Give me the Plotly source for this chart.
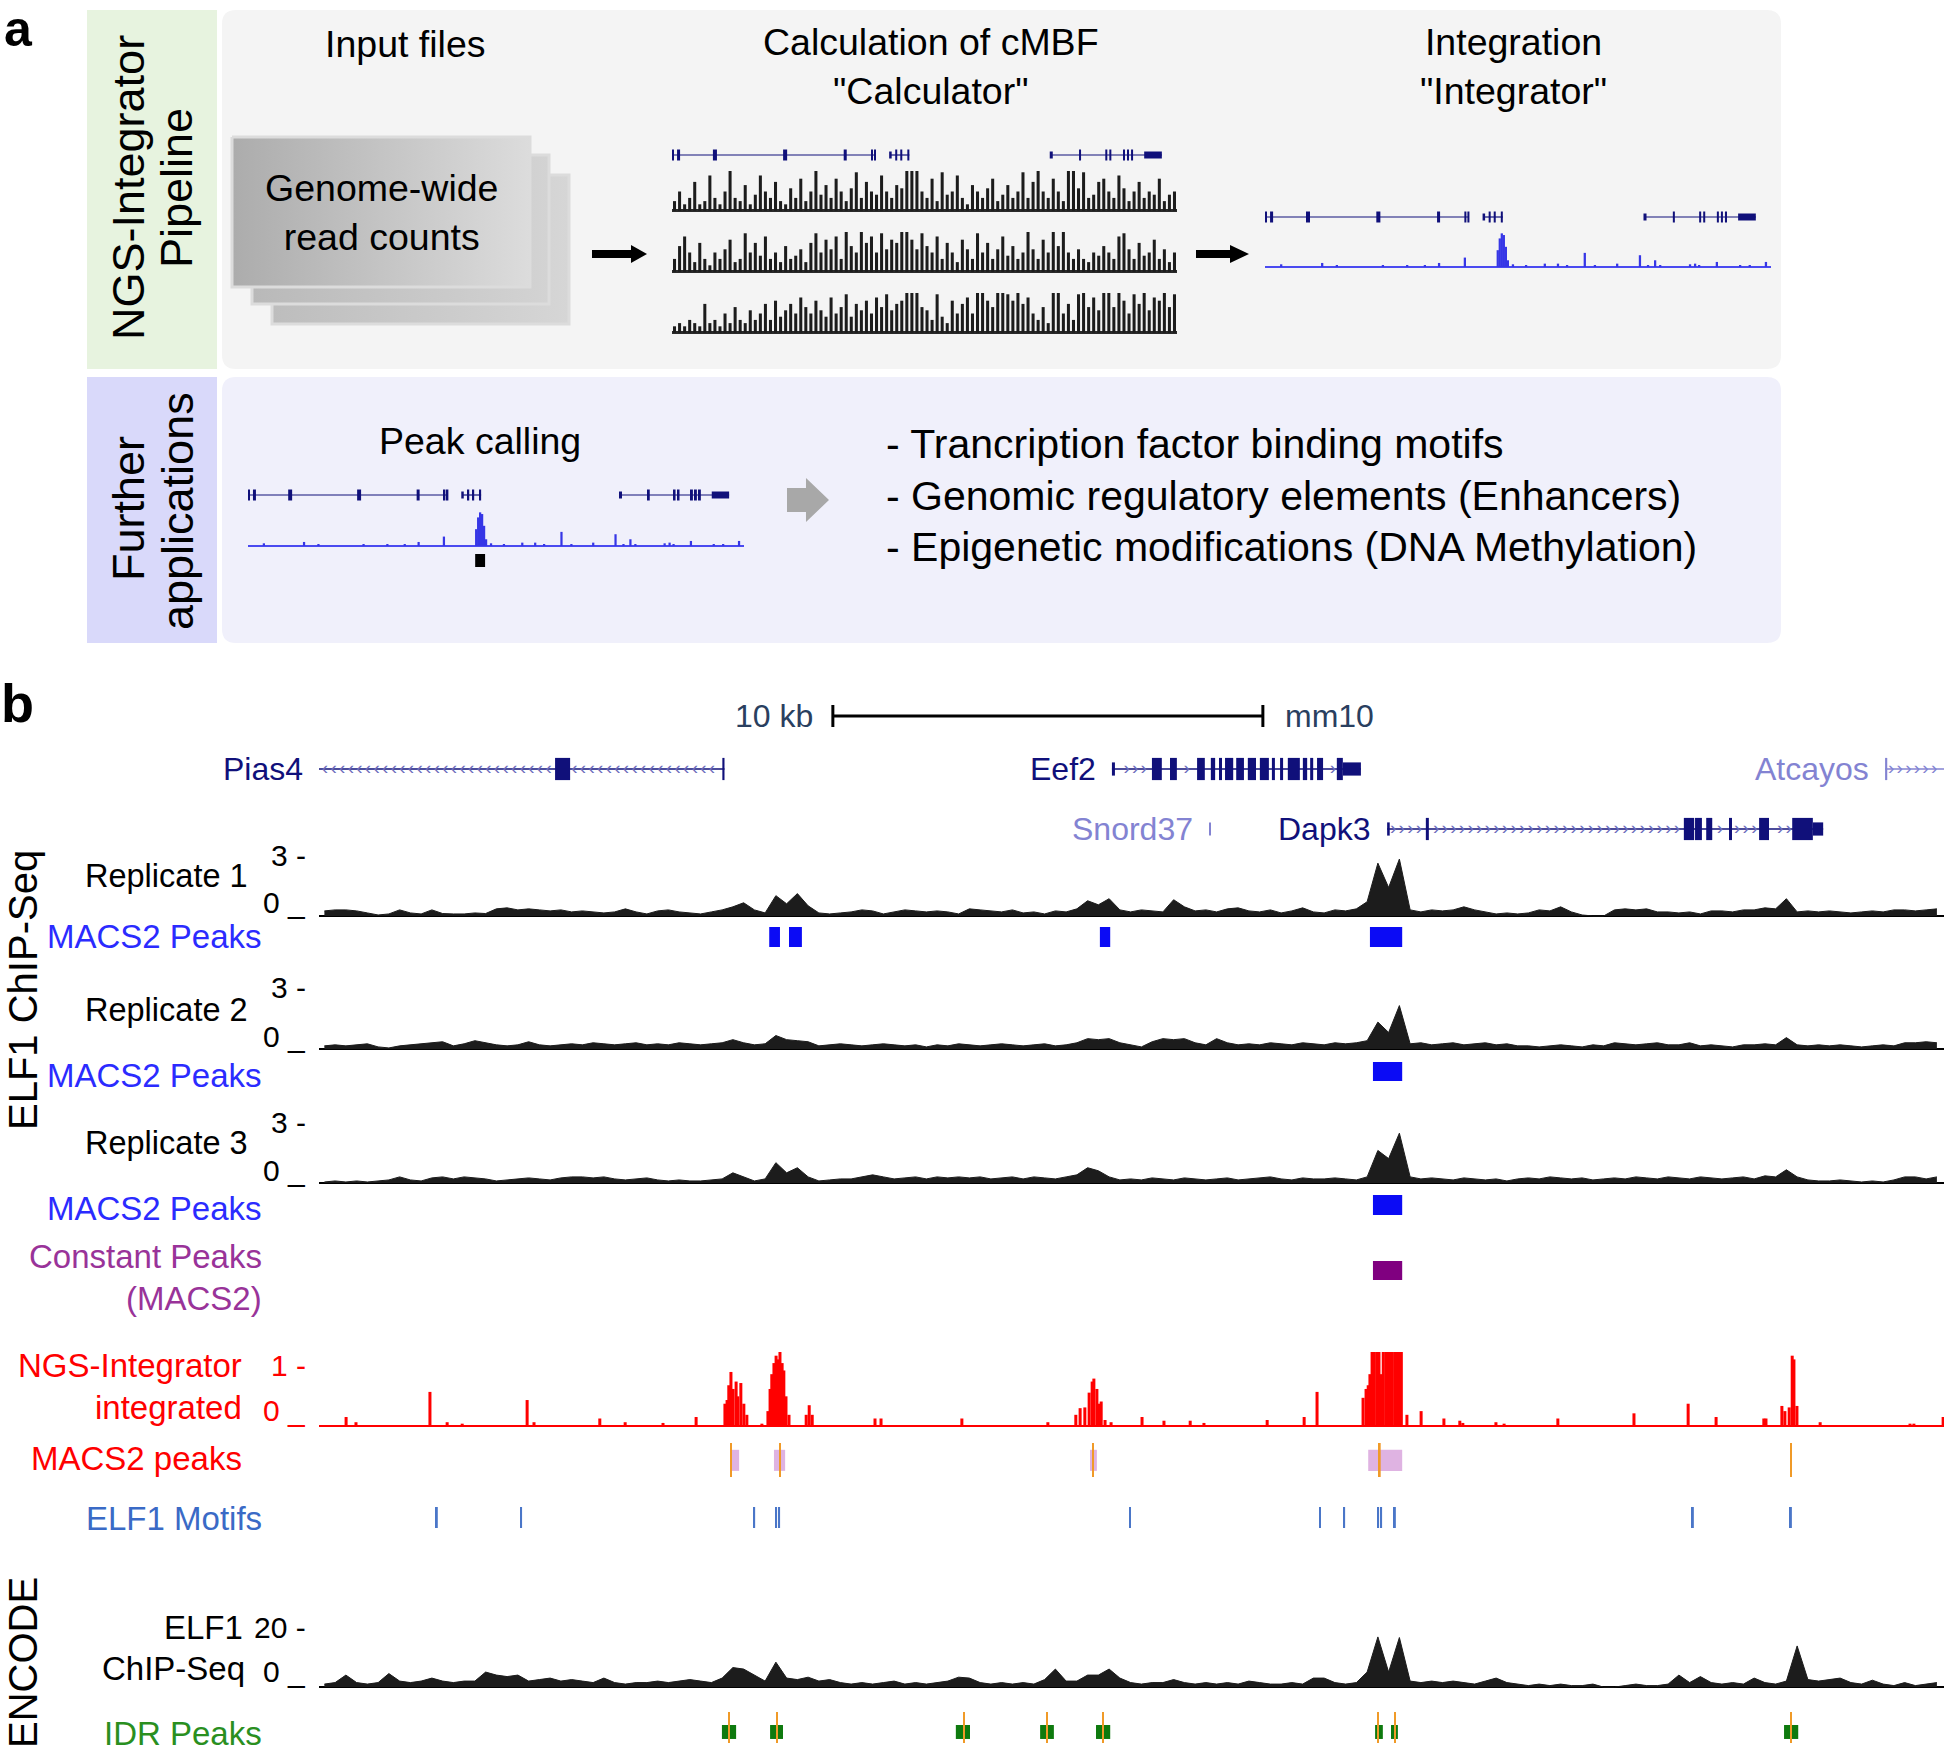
import numpy as np
import plotly.graph_objects as go

W, H = 1946, 1751
FONT = "Liberation Sans, Arial, Helvetica, sans-serif"

# ======================= DATA : panel b (genomic coordinates in kb) =======================
REGION_KB = 37.79
BIN_KB = 0.25

rep1_signal = [
    .25, .3, .3, .25, .15, .05, .1, .3, .15, .1,
    .3, .12, .1, .1, .15, .12, .35, .4, .3, .35,
    .3, .25, .3, .2, .25, .2, .15, .2, .35, .2,
    .1, .25, .3, .2, .15, .1, .2, .3, .45, .65,
    .3, .15, 1.0, .6, 1.1, .5, .15, .1, .15, .2,
    .3, .25, .1, .2, .3, .25, .2, .25, .2, .1,
    .35, .3, .25, .2, .3, .15, .2, .1, .25, .2,
    .35, .75, .55, .85, .3, .2, .3, .25, .2, .8,
    .45, .25, .3, .2, .35, .4, .25, .2, .3, .15,
    .25, .4, .2, .15, .3, .25, .35, .7, 2.6, 1.4,
    2.8, .3, .2, .3, .25, .3, .45, .3, .2, .1,
    .15, .1, .15, .3, .25, .45, .2, .05, 0, 0,
    .3, .35, .3, .35, .2, .2, .15, .2, .1, .25,
    .25, .2, .3, .3, .4, .35, .85, .2, .25, .2,
    .25, .2, .15, .2, .25, .2, .3, .3, .25, .3, .35]

rep2_signal = [
    .15, .2, .15, .2, .25, .1, .05, .15, .2, .25,
    .3, .35, .15, .25, .4, .3, .2, .15, .2, .35,
    .2, .15, .2, .25, .2, .3, .25, .2, .25, .3,
    .2, .25, .2, .3, .25, .2, .25, .3, .45, .3,
    .2, .25, .65, .45, .4, .35, .15, .2, .25, .2,
    .15, .2, .25, .2, .15, .2, .1, .2, .15, .25,
    .2, .15, .2, .25, .2, .15, .2, .25, .15, .2,
    .3, .5, .45, .5, .3, .2, .1, .35, .5, .45,
    .5, .3, .2, .5, .3, .2, .25, .2, .3, .25,
    .2, .3, .25, .2, .3, .25, .3, .4, 1.3, .8,
    2.1, .25, .3, .2, .25, .3, .2, .25, .3, .2,
    .25, .15, .15, .1, .15, .2, .15, .1, .2, .15,
    .3, .25, .2, .25, .3, .2, .2, .3, .15, .2,
    .15, .1, .2, .2, .25, .2, .55, .2, .15, .2,
    .15, .2, .15, .1, .15, .2, .15, .3, .3, .35, .3]

rep3_signal = [
    .05, .1, .05, .1, .05, .1, .15, .3, .15, .1,
    .25, .3, .2, .3, .25, .2, .1, .15, .2, .25,
    .2, .15, .25, .3, .3, .25, .3, .2, .15, .2,
    .25, .15, .1, .15, .1, .1, .15, .2, .5, .3,
    .1, .2, 1.0, .5, .75, .3, .1, .15, .2, .2,
    .3, .4, .3, .2, .25, .3, .2, .3, .25, .3,
    .25, .3, .2, .25, .3, .2, .3, .25, .2, .3,
    .4, .75, .6, .3, .15, .2, .15, .25, .2, .15,
    .25, .2, .15, .2, .25, .15, .2, .25, .3, .2,
    .15, .25, .2, .2, .25, .2, .15, .3, 1.6, 1.2,
    2.45, .3, .2, .25, .2, .15, .25, .2, .15, .2,
    .1, .2, .25, .2, .3, .25, .2, .25, .15, .2,
    .25, .2, .3, .25, .2, .3, .25, .2, .3, .25,
    .2, .25, .3, .2, .35, .3, .65, .3, .15, .1,
    .1, .15, .1, .05, .1, .05, .15, .3, .3, .2, .3]

encode_signal = [
    1, 1.5, 4, 1.5, 1, 1.5, 4.5, 2, 1.5, 2,
    3, 2, 1.5, 2, 2, 5, 4, 3.5, 4, 2,
    2.5, 3, 2, 2.5, 2, 1.5, 3, 1.5, 1, 1.5,
    1.5, 2, 1.5, 2, 2.5, 2, 1.5, 3, 6.5, 6,
    4, 2, 8.3, 3, 2.5, 3.3, 2, 2.5, 1.5, 1,
    1.5, 1, 1.5, 2, 1, 1.5, 1, 1.5, 2, 3.3,
    3, 1.5, 1, 1.5, 1, 1.5, 1, 2.5, 6, 2,
    2, 4, 4, 6, 3, 1.5, 1, 1.5, 1.5, 2.5,
    1.5, 1, 1.5, 1, 1.5, 1, 2, 1.5, 1, 1,
    1.5, 1, 3, 3, 1.5, 1, 1.5, 5, 16.7, 5,
    16.5, 2, 1.5, 2, 1.5, 2, 1.5, 1, 2, 3,
    1.5, 1, .5, 1, .5, 1, .5, .5, 1, 0,
    0, .5, 1, .5, .5, 1, 4, 1.5, 3.5, 1.5,
    1, 1.5, 1, 3, 1.5, 1, 2, 13.7, 2.5, 2,
    2.5, 3, 1.5, 1, 2.3, 1, .5, 1.5, .5, 1, 1.5]

ngs_pos = [0.63, 0.86, 2.58, 2.98, 3.33, 4.84, 5.00, 6.53, 7.12, 8.00, 8.77,
           9.44, 9.49, 9.53, 9.58, 9.63, 9.70, 9.74, 9.81, 9.88, 9.95,
           10.30, 10.44, 10.49, 10.53, 10.58, 10.63, 10.67, 10.72, 10.77, 10.81, 10.86, 10.93,
           11.33, 11.40, 11.47, 12.93, 13.07, 14.95, 16.95,
           17.60, 17.70, 17.81, 17.91, 17.98, 18.02, 18.09, 18.14, 18.19, 18.28, 18.42,
           19.14, 19.65, 20.26, 20.58, 22.05, 22.91, 23.21,
           24.28, 24.35, 24.40, 24.44, 24.49, 24.54, 24.60, 24.65, 24.70, 24.75, 24.81,
           24.86, 24.91, 24.96, 25.02, 25.07, 25.12, 25.17,
           25.30, 25.63, 26.16, 26.53, 26.60, 27.37, 27.56, 28.81, 30.58, 31.84, 32.49, 33.60, 33.65,
           34.02, 34.09, 34.19, 34.26, 34.30, 34.37, 34.91, 37.00, 37.09, 37.77]
ngs_val = [0.12, 0.05, 0.46, 0.05, 0.03, 0.35, 0.05, 0.10, 0.05, 0.04, 0.12,
           0.30, 0.35, 0.55, 0.73, 0.50, 0.60, 0.40, 0.58, 0.30, 0.15,
           0.03, 0.20, 0.50, 0.70, 0.85, 0.95, 0.90, 1.00, 0.85, 0.75, 0.40, 0.15,
           0.15, 0.28, 0.15, 0.10, 0.10, 0.10, 0.05,
           0.15, 0.24, 0.25, 0.45, 0.60, 0.64, 0.50, 0.30, 0.33, 0.08, 0.05,
           0.12, 0.07, 0.07, 0.04, 0.08, 0.12, 0.46,
           0.38, 0.50, 0.55, 0.70, 1.30, 1.30, 1.30, 1.30, 0.70, 1.30, 1.30,
           1.30, 1.30, 1.30, 1.30, 1.30, 1.30, 1.30,
           0.15, 0.20, 0.10, 0.07, 0.04, 0.05, 0.03, 0.10, 0.17, 0.30, 0.12, 0.10, 0.10,
           0.27, 0.20, 0.25, 0.95, 0.90, 0.27, 0.05, 0.03, 0.03, 0.12]

rep1_peak_start = [10.47, 10.93, 18.16, 24.44]
rep1_peak_end = [10.72, 11.23, 18.40, 25.19]
rep2_peak_start = [24.51]
rep2_peak_end = [25.19]
rep3_peak_start = [24.51]
rep3_peak_end = [25.19]
const_peak_start = [24.51]
const_peak_end = [25.19]
ngs_peak_start = [9.58, 10.58, 17.93, 24.40]
ngs_peak_end = [9.77, 10.84, 18.09, 25.19]
ngs_summits = [9.58, 10.72, 18.00, 24.67, 34.23]
motif_pos = [2.74, 4.70, 10.12, 10.63, 10.70, 18.86, 23.28, 23.84, 24.63, 24.70, 25.02, 31.95, 34.23]
idr_start = [9.37, 10.49, 14.81, 16.77, 18.07, 24.56, 24.93, 34.07]
idr_end = [9.70, 10.79, 15.14, 17.09, 18.40, 24.74, 25.09, 34.40]
idr_summits = [9.53, 10.65, 15.00, 16.93, 18.23, 24.63, 25.02, 34.23]

SCALE_START_KB = 11.95
SCALE_KB = 10

gene_names = ["Pias4", "Eef2", "Atcayos", "Snord37", "Dapk3"]
gene_rows = [1, 1, 1, 2, 2]
gene_strand = ["-", "+", "+", "+", "+"]
gene_start = [0.0, 18.44, 36.42, 20.70, 24.84]
gene_end = [9.43, 24.23, 38.60, 20.74, 34.98]
gene_dark = [True, True, False, False, True]
gene_exons = {
    "Pias4": [(5.49, 5.84, "cds"), (9.38, 9.43, "cds")],
    "Eef2": [(18.44, 18.51, "utr"), (19.37, 19.60, "cds"), (19.79, 19.95, "cds"), (20.42, 20.60, "cds"),
             (20.74, 20.84, "cds"), (20.93, 21.00, "cds"), (21.07, 21.26, "cds"), (21.33, 21.51, "cds"),
             (21.60, 21.79, "cds"), (21.88, 22.09, "cds"), (22.16, 22.23, "cds"), (22.35, 22.42, "cds"),
             (22.53, 22.81, "cds"), (22.88, 22.98, "cds"), (23.05, 23.12, "cds"), (23.21, 23.35, "cds"),
             (23.67, 23.81, "cds"), (23.81, 24.23, "utr")],
    "Atcayos": [(36.42, 36.47, "cds")],
    "Snord37": [(20.70, 20.74, "utr")],
    "Dapk3": [(24.84, 24.90, "utr"), (25.74, 25.81, "cds"), (31.74, 31.98, "cds"), (32.00, 32.16, "cds"),
              (32.26, 32.40, "cds"), (32.79, 32.86, "cds"), (33.49, 33.72, "cds"), (34.26, 34.74, "cds"),
              (34.74, 34.98, "utr")],
}

# ======================= DATA : panel a mini tracks (relative units 0-100) =======================
mini_gene_segments = [(0.0, 40.3), (43.2, 47.0), (74.9, 97.0)]
mini_exon_start = [0.0, 1.0, 8.1, 22.0, 34.0, 39.4, 40.0, 43.0, 44.2, 45.2, 46.6,
                   74.8, 80.6, 85.8, 86.6, 89.3, 90.1, 90.9, 93.5]
mini_exon_end = [0.4, 1.6, 8.9, 22.8, 34.6, 39.8, 40.4, 43.5, 44.6, 45.6, 47.0,
                 75.4, 81.0, 86.2, 87.0, 89.7, 90.5, 91.3, 97.0]
mini_exon_kind = ["cds"] * 7 + ["utr", "cds", "cds", "cds", "utr", "cds", "cds", "cds", "cds", "cds", "cds", "utr"]

calc_track1 = [.15, .3, .1, .2, .45, .1, .15, .55, .2, .1, .3, .75, .2, .15, .4, .1, .25, .55, .3, .2,
               .45, .15, .1, .35, .2, .5, .15, .3, .65, .25, .4, .2, .5, .3, .15, .35, .6, .2, .45, .3,
               .25, .55, .3, .2, .4, .35, .85, .85, .8, .3, .2, .5, .15, .6, .25, .3, .55, .2, .1, .4,
               .3, .2, .35, .5, .15, .25, .4, .2, .3, .6, .2, .45, .8, .3, .2, .5, .3, .15, .75, .7,
               .35, .6, .2, .25, .45, .5, .3, .2, .55, .35, .15, .3, .45, .2, .3, .25, .5, .15, .25, .3]
calc_track2 = [.2, .4, .55, .3, .15, .45, .2, .1, .3, .2, .35, .5, .15, .2, .6, .3, .45, .25, .55, .2,
               .3, .15, .4, .2, .25, .35, .15, .45, .6, .3, .5, .35, .55, .2, .65, .4, .3, .7, .45, .55,
               .3, .6, .35, .5, .45, .7, .85, .5, .35, .6, .4, .3, .55, .2, .45, .3, .15, .5, .35, .2,
               .6, .3, .45, .2, .35, .55, .25, .4, .2, .3, .7, .35, .2, .5, .3, .65, .4, .75, .3, .2,
               .35, .2, .15, .3, .25, .4, .3, .2, .55, .6, .35, .2, .45, .25, .3, .5, .2, .35, .15, .3]
calc_track3 = [.1, .15, .1, .2, .15, .1, .45, .15, .2, .1, .3, .15, .4, .2, .15, .35, .2, .3, .45, .2,
               .5, .25, .35, .45, .3, .55, .4, .3, .5, .35, .25, .55, .3, .4, .6, .25, .45, .35, .5, .3,
               .55, .4, .6, .35, .45, .5, .9, .9, .85, .4, .35, .2, .6, .25, .15, .5, .3, .45, .55, .3,
               .65, .7, .5, .4, .65, .75, .6, .5, .7, .45, .55, .3, .2, .4, .15, .75, .8, .3, .45, .2,
               .6, .75, .4, .55, .35, .8, .65, .4, .75, .5, .3, .6, .45, .7, .35, .55, .5, .65, .4, .6]

integ_pos = [3.2, 11.3, 14.2, 23.3, 28.1, 31.6, 34.4, 39.5, 46.0, 46.4, 46.8, 47.2, 47.6, 48.0, 49.0,
             51.6, 55.3, 57.9, 59.7, 63.2, 65.2, 69.6, 74.1, 75.7, 77.1, 78.1, 84.0, 85.0, 85.8, 89.3,
             93.9, 95.8, 99.0]
integ_val = [0.08, 0.12, 0.05, 0.04, 0.04, 0.05, 0.12, 0.28, 0.5, 0.85, 1.0, 0.95, 0.6, 0.2, 0.08,
             0.04, 0.1, 0.1, 0.05, 0.42, 0.04, 0.1, 0.35, 0.06, 0.2, 0.05, 0.08, 0.1, 0.05, 0.15,
             0.04, 0.05, 0.15]
called_peak_start = [45.8]
called_peak_end = [47.8]

bullet_items = ["- Trancription factor binding motifs",
                "- Genomic regulatory elements (Enhancers)",
                "- Epigenetic modifications (DNA Methylation)"]

# ======================= helpers =======================
def X(px):
    return px / W


def Y(py):
    return 1 - py / H


def dom(top, bottom):
    return [Y(bottom), Y(top)]


GENE_DARK = "#10107a"
GENE_LIGHT = "#8383d2"
CHEV_DARK = "#6c6cbc"
BLACK_SIG = "#1c1c1c"

traces = []
axes = {}
annotations = []
shapes = []


def yname(n):
    return "y" if n == 1 else f"y{n}"


def add_yaxis(n, top, bottom, rng, anchor="x", zeroline=None):
    d = dict(domain=dom(top, bottom), range=rng, anchor=anchor, fixedrange=True, showgrid=False,
             showticklabels=False, ticks="", showline=False, zeroline=False)
    if zeroline:
        d.update(zeroline=True, zerolinecolor=zeroline[0], zerolinewidth=zeroline[1])
    axes["yaxis" if n == 1 else f"yaxis{n}"] = d


def add_xaxis(n, left, right, rng, anchor):
    axes["xaxis" if n == 1 else f"xaxis{n}"] = dict(domain=[X(left), X(right)], range=rng, anchor=anchor,
                                                     visible=False, fixedrange=True, showgrid=False,
                                                     zeroline=False)


def interval_bars(starts, ends, xa, yn, color, base=0.0, height=1.0):
    s = np.asarray(starts, float)
    e = np.asarray(ends, float)
    traces.append(go.Bar(x=(s + e) / 2, y=[height] * len(s), base=[base] * len(s), width=e - s,
                         marker=dict(color=color, line=dict(width=0)), xaxis=xa, yaxis=yname(yn),
                         hoverinfo="skip"))


def ticks_bars(pos, xa, yn, color, width):
    traces.append(go.Bar(x=pos, y=[1.0] * len(pos), base=[0.0] * len(pos), width=[width] * len(pos),
                         marker=dict(color=color, line=dict(width=0)), xaxis=xa, yaxis=yname(yn),
                         hoverinfo="skip"))


def signal_fill(values, yn, color):
    x = (np.arange(len(values)) + 0.5) * BIN_KB
    traces.append(go.Scatter(x=x, y=values, mode="lines", fill="tozeroy", fillcolor=color,
                             line=dict(color=color, width=1), xaxis="x", yaxis=yname(yn),
                             hoverinfo="skip"))


def ann(text, x, y, size, color="black", xanchor="center", angle=0):
    annotations.append(dict(text=text, x=X(x), y=Y(y), xref="paper", yref="paper", xanchor=xanchor,
                            yanchor="middle", showarrow=False, textangle=angle,
                            font=dict(family=FONT, size=size, color=color)))


def poly_path(pts):
    return "M " + " L ".join(f"{X(a):.5f},{Y(b):.5f}" for a, b in pts) + " Z"


def rrect_path(x0, y0, x1, y1, r):
    def p(a, b):
        return f"{X(a):.5f},{Y(b):.5f}"
    return (f"M {p(x0 + r, y0)} L {p(x1 - r, y0)} Q {p(x1, y0)} {p(x1, y0 + r)} "
            f"L {p(x1, y1 - r)} Q {p(x1, y1)} {p(x1 - r, y1)} L {p(x0 + r, y1)} "
            f"Q {p(x0, y1)} {p(x0, y1 - r)} L {p(x0, y0 + r)} Q {p(x0, y0)} {p(x0 + r, y0)} Z")


# ======================= panel a : backgrounds =======================
shapes.append(dict(type="rect", xref="paper", yref="paper", x0=X(87), x1=X(217), y0=Y(369), y1=Y(10),
                   fillcolor="#e7f3df", line=dict(width=0), layer="below"))
shapes.append(dict(type="path", xref="paper", yref="paper", path=rrect_path(222, 10, 1781, 369, 14),
                   fillcolor="#f4f4f4", line=dict(width=0), layer="below"))
shapes.append(dict(type="rect", xref="paper", yref="paper", x0=X(87), x1=X(217), y0=Y(643), y1=Y(377),
                   fillcolor="#d9d9fa", line=dict(width=0), layer="below"))
shapes.append(dict(type="path", xref="paper", yref="paper", path=rrect_path(222, 377, 1781, 643, 14),
                   fillcolor="#f0f0fb", line=dict(width=0), layer="below"))

# stacked "files" boxes (gradient) on a full-page overlay axis
add_xaxis(5, 0, W, [0, W], "y23")
axes["yaxis23"] = dict(domain=[0, 1], range=[H, 0], anchor="x5", visible=False, fixedrange=True)
for (x0, y0, x1, y1), (c0, c1) in zip([(272, 175, 569, 324), (252, 155, 549, 304), (232, 137, 530, 287)],
                                      [("#bdbdbd", "#d6d6d6"), ("#b9b9b9", "#d3d3d3"), ("#acacac", "#dcdcdc")]):
    traces.append(go.Scatter(x=[x0, x1, x1, x0, x0], y=[y0, y0, y1, y1, y0], mode="lines", fill="toself",
                             fillgradient=dict(type="horizontal", colorscale=[[0, c0], [1, c1]]),
                             line=dict(color="#dcdcdc", width=3), xaxis="x5", yaxis="y23",
                             hoverinfo="skip"))

# arrows
for x0, xh, xt in [(592, 631, 647), (1196, 1230, 1249)]:
    shapes.append(dict(type="path", xref="paper", yref="paper", fillcolor="black", line=dict(width=0),
                       path=poly_path([(x0, 250), (xh, 250), (xh, 245), (xt, 254), (xh, 263), (xh, 258),
                                       (x0, 258)])))
shapes.append(dict(type="path", xref="paper", yref="paper", fillcolor="#a8a8a8", line=dict(width=0),
                   path=poly_path([(787, 488), (806, 488), (806, 478), (829, 500), (806, 522), (806, 512),
                                   (787, 512)])))

# ======================= panel a : mini tracks =======================
def mini_gene(xa, yn):
    xs, ys = [], []
    for s, e in mini_gene_segments:
        xs += [s, e, None]
        ys += [0, 0, None]
    traces.append(go.Scatter(x=xs, y=ys, mode="lines", line=dict(color=GENE_DARK, width=1.2), xaxis=xa,
                             yaxis=yname(yn), hoverinfo="skip"))
    s = np.asarray(mini_exon_start)
    e = np.asarray(mini_exon_end)
    h = np.array([1.1 if k == "cds" else 0.7 for k in mini_exon_kind])
    traces.append(go.Bar(x=(s + e) / 2, y=h, base=-h / 2, width=e - s,
                         marker=dict(color=GENE_DARK, line=dict(width=0)), xaxis=xa, yaxis=yname(yn),
                         hoverinfo="skip"))


# calculator
add_xaxis(2, 672, 1177, [0, 100], "y14")
add_yaxis(14, 145, 165, [-1, 1], anchor="x2")
mini_gene("x2", 14)
for yn, (top, bot), vals in zip([15, 16, 17], [(171, 212), (232, 273), (293, 334)],
                                [calc_track1, calc_track2, calc_track3]):
    add_yaxis(yn, top, bot, [-0.02, 0.62], anchor="x2", zeroline=("#2a2a2a", 2.5))
    n = len(vals)
    traces.append(go.Bar(x=(np.arange(n) + 0.5) * 100 / n, y=vals, width=0.6 * 100 / n,
                         marker=dict(color=BLACK_SIG, line=dict(width=0)), xaxis="x2", yaxis=yname(yn),
                         hoverinfo="skip"))

# integrator
add_xaxis(3, 1265, 1771, [0, 100], "y18")
add_yaxis(18, 207, 227, [-1, 1], anchor="x3")
mini_gene("x3", 18)
add_yaxis(19, 230, 268, [-0.03, 1.1], anchor="x3", zeroline=("#4a4af0", 1.5))
traces.append(go.Bar(x=integ_pos, y=integ_val, width=0.45, marker=dict(color="#3636e6", line=dict(width=0)),
                     xaxis="x3", yaxis="y19", hoverinfo="skip"))

# peak calling
add_xaxis(4, 248, 744, [0, 100], "y20")
add_yaxis(20, 485, 505, [-1, 1], anchor="x4")
mini_gene("x4", 20)
add_yaxis(21, 509, 547, [-0.03, 1.1], anchor="x4", zeroline=("#4a4af0", 1.5))
traces.append(go.Bar(x=integ_pos, y=integ_val, width=0.45, marker=dict(color="#3636e6", line=dict(width=0)),
                     xaxis="x4", yaxis="y21", hoverinfo="skip"))
add_yaxis(22, 554, 567, [0, 1], anchor="x4")
interval_bars(called_peak_start, called_peak_end, "x4", 22, "black")

# panel a text
ann("<b>a</b>", 18, 29, 50)
ann("NGS-Integrator", 129, 188, 45, angle=-90)
ann("Pipeline", 177, 188, 45, angle=-90)
ann("Further", 128, 509, 45, angle=-90)
ann("applications", 177, 511, 45, angle=-90)
ann("Input files", 405, 44, 37.5)
ann("Calculation of cMBF<br>\"Calculator\"", 931, 67, 37.5)
ann("Integration<br>\"Integrator\"", 1513, 67, 37.5)
ann("Genome-wide<br>read counts", 381, 213, 37.5)
ann("Peak calling", 480, 441, 37.5)
for txt, yy in zip(bullet_items, [444, 496, 547]):
    ann(txt, 884, yy, 41, xanchor="left")

# ======================= panel b =======================
add_xaxis(1, 319, 1944, [0, REGION_KB], "y")
add_yaxis(1, 739, 859, [2.5, 0.5], anchor="x")

# genes
for name, row, strand, s, e, dark in zip(gene_names, gene_rows, gene_strand, gene_start, gene_end, gene_dark):
    col = GENE_DARK if dark else GENE_LIGHT
    chev = CHEV_DARK if dark else GENE_LIGHT
    traces.append(go.Scatter(x=[s, e], y=[row, row], mode="lines", line=dict(color=col, width=1.6),
                             xaxis="x", yaxis="y", hoverinfo="skip"))
    ex = gene_exons[name]
    es = np.array([a for a, b, k in ex])
    ee = np.array([b for a, b, k in ex])
    hh = np.array([0.37 if k == "cds" else 0.22 for a, b, k in ex])
    traces.append(go.Bar(x=(es + ee) / 2, y=hh, base=row - hh / 2, width=ee - es,
                         marker=dict(color=col, line=dict(width=0)), xaxis="x", yaxis="y", hoverinfo="skip"))
    if e - s > 0.5:
        cp = np.arange(s + 0.14, min(e, REGION_KB) - 0.12, 0.2)
        keep = [p for p in cp if not any(a - 0.07 <= p <= b + 0.07 for a, b, k in ex)]
        traces.append(go.Scatter(x=keep, y=[row] * len(keep), mode="text",
                                 text=["›" if strand == "+" else "‹"] * len(keep),
                                 textfont=dict(family=FONT, size=19, color=chev), textposition="middle center",
                                 xaxis="x", yaxis="y", hoverinfo="skip"))
    annotations.append(dict(text=name, x=max(s, 0), y=row, xref="x", yref="y", xanchor="right",
                            yanchor="middle", xshift=-14, showarrow=False,
                            font=dict(family=FONT, size=32, color=col)))

# scale bar
sb0, sb1 = SCALE_START_KB, SCALE_START_KB + SCALE_KB
shapes.append(dict(type="line", xref="x", yref="paper", x0=sb0, x1=sb1, y0=Y(716), y1=Y(716),
                   line=dict(color="black", width=3)))
for xx in (sb0, sb1):
    shapes.append(dict(type="line", xref="x", yref="paper", x0=xx, x1=xx, y0=Y(705), y1=Y(727),
                       line=dict(color="black", width=3)))
annotations.append(dict(text=f"{SCALE_KB} kb", x=sb0, y=Y(716), xref="x", yref="paper", xanchor="right",
                        yanchor="middle", xshift=-18, showarrow=False, font=dict(family=FONT, size=32)))
annotations.append(dict(text="mm10", x=sb1, y=Y(716), xref="x", yref="paper", xanchor="left",
                        yanchor="middle", xshift=20, showarrow=False, font=dict(family=FONT, size=32)))

# replicate tracks
BLUE = "#0b0bf5"
rep_cfg = [(2, 3, rep1_signal, rep1_peak_start, rep1_peak_end, (855, 917), (927, 947), "Replicate 1", 876, 937),
           (4, 5, rep2_signal, rep2_peak_start, rep2_peak_end, (987, 1050), (1062, 1081), "Replicate 2", 1010, 1075),
           (6, 7, rep3_signal, rep3_peak_start, rep3_peak_end, (1122, 1184), (1195, 1215), "Replicate 3", 1143, 1208)]
for ysig, ypk, vals, ps, pe, (t, b), (pt, pb), lab, ly, py in rep_cfg:
    add_yaxis(ysig, t, b, [-0.05, 3.0], zeroline=("black", 1.5))
    signal_fill(vals, ysig, BLACK_SIG)
    add_yaxis(ypk, pt, pb, [0, 1])
    interval_bars(ps, pe, "x", ypk, BLUE)
    ann(lab, 250, ly, 32.5, xanchor="right")
    ann("3 -", 308, t, 30, xanchor="right")
    ann("0 _", 308, b - 14, 30, xanchor="right")
    ann("MACS2 Peaks", 264, py, 33, color="#2b2bff", xanchor="right")

# constant peaks
add_yaxis(8, 1261, 1280, [0, 1])
interval_bars(const_peak_start, const_peak_end, "x", 8, "#800080")
ann("Constant Peaks", 264, 1256, 33, color="#993399", xanchor="right")
ann("(MACS2)", 264, 1298, 33, color="#993399", xanchor="right")

# NGS-Integrator integrated
RED = "#ff0000"
add_yaxis(9, 1352, 1427, [-0.015, 1.0], zeroline=(RED, 2))
traces.append(go.Bar(x=ngs_pos, y=ngs_val, width=0.07, marker=dict(color=RED, line=dict(width=0)),
                     xaxis="x", yaxis="y9", hoverinfo="skip"))
ann("NGS-Integrator", 244, 1365, 33, color=RED, xanchor="right")
ann("integrated", 244, 1407, 33, color=RED, xanchor="right")
ann("1 -", 308, 1365, 30, color=RED, xanchor="right")
ann("0 _", 308, 1410, 30, color=RED, xanchor="right")

# NGS MACS2 peaks
add_yaxis(10, 1443, 1477, [0, 1])
interval_bars(ngs_peak_start, ngs_peak_end, "x", 10, "#dfb3e2", base=0.18, height=0.62)
ticks_bars(ngs_summits, "x", 10, "#f09a28", 0.04)
ann("MACS2 peaks", 244, 1458, 33, color=RED, xanchor="right")

# motifs
add_yaxis(11, 1507, 1528, [0, 1])
ticks_bars(motif_pos, "x", 11, "#4a76c8", 0.045)
ann("ELF1 Motifs", 264, 1518, 33, color="#3a6ac6", xanchor="right")

# ENCODE
add_yaxis(12, 1627, 1688, [-0.3, 20], zeroline=("black", 1.5))
signal_fill(encode_signal, 12, BLACK_SIG)
ann("ELF1", 245, 1627, 33, xanchor="right")
ann("ChIP-Seq", 247, 1668, 33, xanchor="right")
ann("20 -", 308, 1627, 30, xanchor="right")
ann("0 _", 308, 1671, 30, xanchor="right")

add_yaxis(13, 1712, 1743, [0, 1])
interval_bars(idr_start, idr_end, "x", 13, "#0e7a0e", base=0.13, height=0.45)
ticks_bars(idr_summits, "x", 13, "#f09a28", 0.035)
ann("IDR Peaks", 264, 1733, 33, color="#2a8f1f", xanchor="right")

# panel b labels
ann("<b>b</b>", 17, 703, 54)
ann("ELF1 ChIP-Seq", 23, 990, 40, angle=-90)
ann("ENCODE", 23, 1663, 40, angle=-90)

fig = go.Figure(data=traces)
fig.update_layout(width=W, height=H, margin=dict(l=0, r=0, t=0, b=0), paper_bgcolor="white",
                  plot_bgcolor="rgba(0,0,0,0)", showlegend=False, barmode="overlay",
                  annotations=annotations, shapes=shapes, font=dict(family=FONT), **axes)
fig.write_html("out.html", config={"displayModeBar": False},
               post_script="document.body.style.margin='0';document.body.style.overflow='hidden';")
